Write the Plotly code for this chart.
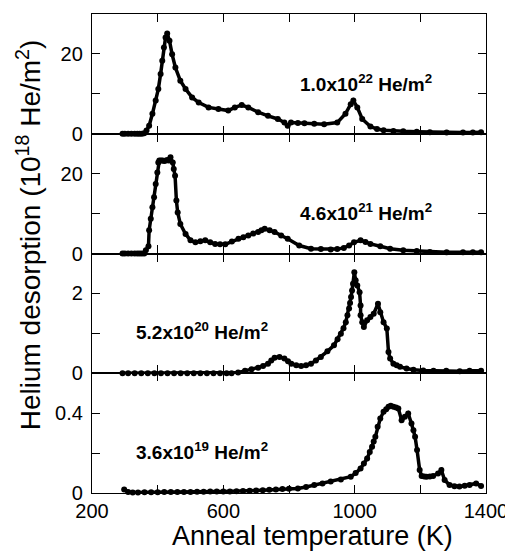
import plotly.graph_objects as go
from plotly.subplots import make_subplots

# Panel 1: 1.0x10^22 He/m^2
t1 = [293, 300, 310, 320, 330, 338, 345, 352, 359, 366, 374, 384, 394, 402, 409, 414, 419, 424, 429,
      436, 444, 454, 469, 485, 505, 525, 555, 585, 615, 635, 656, 676, 706, 736, 766, 786, 796,
      806, 827, 847, 877, 907, 947, 972, 988, 996, 1008, 1023, 1048, 1068, 1088, 1118, 1148,
      1189, 1229, 1280, 1330, 1360, 1385]
v1 = [0.0, 0.0, 0.0, 0.0, 0.0, 0.0, 0.0, 0.0, 0.1, 0.8, 2.0, 5.0, 8.3, 11.2, 15.0, 18.3, 21.6, 24.1, 25.1,
      23.3, 19.9, 16.6, 13.3, 11.2, 9.1, 7.8, 6.6, 6.2, 5.8, 6.6, 7.2, 6.6, 5.4, 4.5, 3.7, 2.8, 2.0,
      2.8, 2.7, 2.6, 2.5, 2.4, 2.8, 5.0, 7.4, 8.3, 6.6, 3.7, 1.8, 1.2, 0.9, 0.7, 0.6,
      0.5, 0.4, 0.3, 0.3, 0.3, 0.4]

# Panel 2: 4.6x10^21 He/m^2
t2 = [293, 300, 310, 320, 330, 338, 345, 352, 359, 364, 372, 374, 379, 384, 389, 394, 399, 402, 405,
      410, 415, 420, 425, 430, 434, 439, 446, 449, 453, 457, 461, 469, 485, 500, 515, 530, 545,
      560, 575, 590, 606, 626, 646, 661, 676, 691, 706, 716, 726, 741, 756, 776, 796, 831, 867,
      897, 927, 947, 967, 983, 998, 1018, 1033, 1048, 1078, 1108, 1148, 1189, 1229, 1280, 1330,
      1360, 1385]
v2 = [0.0, 0.0, 0.0, 0.0, 0.0, 0.0, 0.0, 0.0, 0.0, 0.8, 1.8, 5.8, 8.7, 11.6, 14.1, 17.4, 20.3, 22.8, 23.3,
      23.3, 23.3, 23.2, 23.3, 23.4, 23.3, 24.1, 22.8, 21.2, 19.5, 13.3, 10.3, 7.4, 4.9, 3.3, 2.8, 3.1, 3.3,
      2.8, 2.4, 2.3, 2.3, 3.0, 3.7, 4.1, 4.5, 5.0, 5.4, 5.8, 6.2, 5.8, 5.4, 4.5, 3.7, 2.0, 1.2,
      1.1, 1.0, 1.1, 1.4, 2.0, 2.8, 3.3, 2.9, 2.4, 1.8, 1.2, 0.8, 0.6, 0.4, 0.3, 0.3,
      0.3, 0.3]

# Panel 3: 5.2x10^20 He/m^2
t3 = [293, 310, 330, 350, 370, 390, 410, 430, 450, 470, 490, 510, 530, 550, 570, 590, 610, 625, 645,
      666, 686, 706, 721, 736, 746, 756, 771, 786, 797, 807, 822, 837, 852, 867, 882, 897, 917,
      937, 948, 958, 966, 973, 978, 983, 986, 989, 992, 995, 999, 1003, 1008, 1015, 1018, 1018,
      1023, 1028, 1038, 1048, 1058, 1071, 1078, 1088, 1098, 1103, 1108, 1118, 1128, 1138, 1158,
      1179, 1209, 1240, 1279, 1320, 1350, 1385]
v3 = [0.0, 0.0, 0.0, 0.0, 0.0, 0.0, 0.0, 0.0, 0.0, 0.0, 0.0, 0.0, 0.0, 0.0, 0.0, 0.0, 0.0, 0.0, 0.02,
      0.06, 0.10, 0.14, 0.18, 0.24, 0.32, 0.39, 0.41, 0.37, 0.30, 0.24, 0.20, 0.18, 0.20, 0.24, 0.32, 0.41, 0.55,
      0.70, 0.85, 0.99, 1.13, 1.28, 1.45, 1.62, 1.76, 1.91, 2.07, 2.24, 2.53, 2.33, 2.20, 2.03, 1.70, 1.45,
      1.28, 1.16, 1.33, 1.41, 1.49, 1.74, 1.53, 1.28, 1.12, 0.53, 0.37, 0.24, 0.20, 0.16, 0.12,
      0.09, 0.07, 0.06, 0.06, 0.05, 0.06, 0.06]

# Panel 4: 3.6x10^19 He/m^2
t4 = [298, 310, 324, 340, 360, 380, 400, 420, 440, 460, 480, 500, 520, 540, 560, 580, 600, 620, 640,
      660, 680, 700, 720, 740, 760, 780, 800, 827, 852, 877, 902, 927, 958, 988, 1003, 1018, 1028,
      1038, 1046, 1053, 1058, 1063, 1070, 1078, 1088, 1096, 1103, 1110, 1118, 1126, 1133, 1143,
      1153, 1163, 1173, 1179, 1184, 1190, 1198, 1204, 1212, 1219, 1229, 1239, 1254, 1264, 1274,
      1289, 1304, 1319, 1335, 1350, 1370, 1385]
v4 = [0.018, 0.005, 0.003, 0.003, 0.004, 0.004, 0.004, 0.005, 0.005, 0.005, 0.005, 0.005, 0.006, 0.006,
      0.007, 0.007, 0.008, 0.008, 0.009, 0.010, 0.011, 0.012, 0.014, 0.016, 0.018, 0.020, 0.021, 0.023,
      0.030, 0.040, 0.048, 0.057, 0.068, 0.082, 0.100, 0.123, 0.148, 0.173, 0.205, 0.232, 0.258, 0.282,
      0.332, 0.373, 0.407, 0.420, 0.432, 0.437, 0.432, 0.428, 0.423, 0.365, 0.382, 0.398, 0.348, 0.315,
      0.282, 0.215, 0.115, 0.085, 0.083, 0.082, 0.083, 0.085, 0.098, 0.115, 0.065, 0.040, 0.034, 0.032,
      0.036, 0.040, 0.048, 0.035]

series = [(t1, v1), (t2, v2), (t3, v3), (t4, v4)]
yranges = [[0, 30], [0, 30], [0, 3], [0, 0.6]]
ytickvals = [[0, 10, 20], [0, 10, 20], [0, 1, 2], [0, 0.2, 0.4]]
yticktext = [["0", "", "20"], ["0", "", "20"], ["0", "", "2"], ["0", "", "0.4"]]
labels = ["1.0x10<sup>22</sup> He/m<sup>2</sup>", "4.6x10<sup>21</sup> He/m<sup>2</sup>",
          "5.2x10<sup>20</sup> He/m<sup>2</sup>", "3.6x10<sup>19</sup> He/m<sup>2</sup>"]
label_pos = [(1035, 12.75), (1035, 10.5), (536, 1.05), (536, 0.21)]
xtickvals = [200, 400, 600, 800, 1000, 1200, 1400]
xticktext = ["200", "", "600", "", "1000", "", "1400"]

FONT = "Liberation Sans, Arial"

fig = make_subplots(rows=4, cols=1, shared_xaxes=True, vertical_spacing=0)
for i, (t, v) in enumerate(series):
    fig.add_trace(go.Scatter(x=t, y=v, mode="lines+markers",
                             line=dict(color="black", width=3.5),
                             marker=dict(color="black", size=6),
                             cliponaxis=False, showlegend=False), row=i + 1, col=1)
    fig.update_yaxes(range=yranges[i], tickvals=ytickvals[i], ticktext=yticktext[i],
                     row=i + 1, col=1)
    fig.add_annotation(x=label_pos[i][0], y=label_pos[i][1], text="<b>" + labels[i] + "</b>",
                       showarrow=False,
                       xref="x" if i == 0 else f"x{i+1}", yref="y" if i == 0 else f"y{i+1}",
                       font=dict(family=FONT, size=19, color="black"),
                       xanchor="center", yanchor="middle")

fig.update_xaxes(range=[200, 1400], tickvals=xtickvals, ticktext=xticktext,
                 showline=True, linecolor="black", linewidth=1.3, mirror="ticks",
                 ticks="inside", ticklen=8, tickcolor="black", tickwidth=1.3,
                 showgrid=False, zeroline=False,
                 tickfont=dict(family=FONT, size=20, color="black"))
fig.update_yaxes(showline=True, linecolor="black", linewidth=1.3, mirror="ticks",
                 ticks="inside", ticklen=8, tickcolor="black", tickwidth=1.3,
                 showgrid=False, zeroline=False, ticklabelstandoff=4,
                 tickfont=dict(family=FONT, size=20, color="black"))

fig.add_annotation(text="Anneal temperature (K)", xref="paper", yref="paper", x=0.56, y=-0.09,
                   showarrow=False, xanchor="center", yanchor="middle",
                   font=dict(family=FONT, size=27, color="black"))
fig.add_annotation(text="Helium desorption (10<sup>18</sup> He/m<sup>2</sup>)", xref="paper",
                   yref="paper", x=-0.16, y=0.54, textangle=-90, showarrow=False,
                   xanchor="center", yanchor="middle",
                   font=dict(family=FONT, size=28, color="black"))

# page body has an 8px margin; size/margins compensate so the plot lands where the reference has it
fig.update_layout(width=505, height=549, margin=dict(l=84, r=23, t=5, b=64),
                  paper_bgcolor="white", plot_bgcolor="white")
fig.write_html("out.html")
